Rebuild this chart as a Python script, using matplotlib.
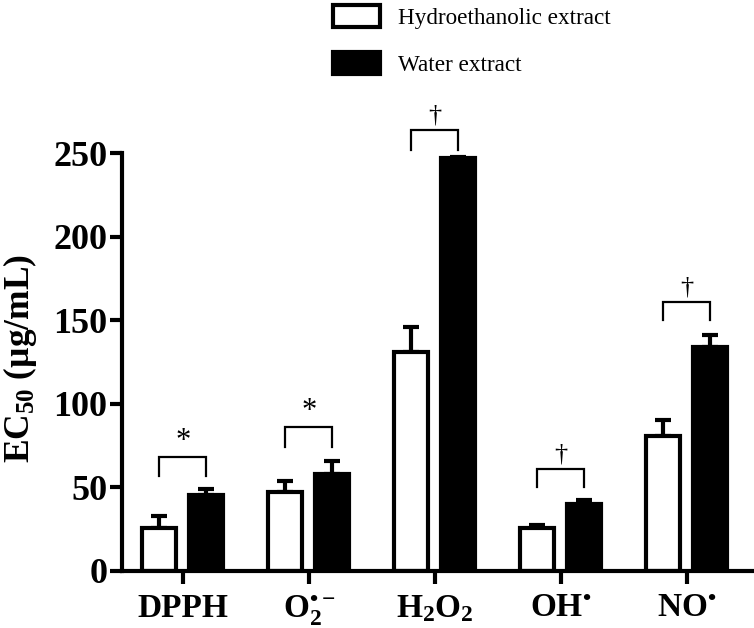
import numpy as np
import matplotlib
matplotlib.use('Agg')
import matplotlib.pyplot as plt
from matplotlib.patches import Patch

plt.rcParams['font.family'] = ['Liberation Serif', 'DejaVu Serif']
plt.rcParams['mathtext.fontset'] = 'custom'
plt.rcParams['mathtext.rm'] = 'Liberation Serif:bold'
plt.rcParams['mathtext.bf'] = 'Liberation Serif:bold'
plt.rcParams['mathtext.it'] = 'Liberation Serif:bold'

# data
radicals = ['DPPH', r'$\mathregular{O_2^{•-}}$', r'$\mathregular{H_2O_2}$',
            r'$\mathregular{OH^{•}}$', r'$\mathregular{NO^{•}}$']
hydro_mean = [25.7, 47.5, 131, 26, 81]
hydro_err = [7, 6.5, 15, 1.5, 9.5]
water_mean = [45.5, 58, 247, 40, 134]
water_err = [3.5, 8, 1, 2.5, 7.5]
marks = ['*', '*', '†', '†', '†']
bracket_top = [68, 86, 264, 61, 161]
bracket_leg = [57, 74, 252, 50, 150]

fig = plt.figure(figsize=(7.54, 6.28), dpi=100)
ax = fig.add_axes([0.1618, 0.0908, 0.8355, 0.798])

x = np.arange(len(radicals))
off = 0.187
w = 0.27
lw = 3

ax.bar(x - off, hydro_mean, w, color='white', edgecolor='black', linewidth=lw, zorder=2)
ax.bar(x + off, water_mean, w, color='black', edgecolor='black', linewidth=lw, zorder=2)
ax.errorbar(x - off, hydro_mean, yerr=[np.zeros(len(x)), hydro_err], fmt='none',
            ecolor='black', elinewidth=lw, capsize=6, capthick=lw, zorder=1)
ax.errorbar(x + off, water_mean, yerr=[np.zeros(len(x)), water_err], fmt='none',
            ecolor='black', elinewidth=lw, capsize=6, capthick=lw, zorder=1)

# significance brackets
for i in range(len(x)):
    xl, xr = x[i] - off, x[i] + off
    ax.plot([xl, xl, xr, xr], [bracket_leg[i], bracket_top[i], bracket_top[i], bracket_leg[i]],
            color='black', lw=1.6, solid_joinstyle='miter')
    if marks[i] == '*':
        ax.text(x[i], bracket_top[i] + 1, '*', ha='center', va='bottom', fontsize=22)
    else:
        ax.text(x[i], bracket_top[i] + 2, '†', ha='center', va='bottom', fontsize=19)

ax.set_xlim(-0.484, 4.52)
ax.set_ylim(0, 300)
ax.spines['left'].set_bounds(0, 250)
ax.spines['top'].set_visible(False)
ax.spines['right'].set_visible(False)
ax.spines['left'].set_linewidth(lw)
ax.spines['bottom'].set_linewidth(lw)
ax.set_yticks([0, 50, 100, 150, 200, 250])
ax.set_xticks(x)
ax.set_xticklabels(radicals)
ax.tick_params(axis='both', width=lw, length=9)
ax.tick_params(axis='x', labelsize=24, pad=7)
ax.tick_params(axis='y', labelsize=26, pad=1.5)
for t in ax.get_xticklabels() + ax.get_yticklabels():
    t.set_fontweight('bold')
ax.set_ylabel(r'EC$_{\mathregular{50}}$ (µg/mL)', fontsize=25.5, fontweight='bold')
ax.yaxis.set_label_coords(-0.132, 0.423)

handles = [Patch(facecolor='white', edgecolor='black', linewidth=lw),
           Patch(facecolor='black', edgecolor='black', linewidth=lw)]
fig.legend(handles, ['Hydroethanolic extract', 'Water extract'], loc='upper left',
           bbox_to_anchor=(0.4416, 0.992), frameon=False, fontsize=16.7,
           borderpad=0, borderaxespad=0,
           handlelength=2.03, handleheight=1.08, handletextpad=0.78, labelspacing=1.0)

fig.savefig('out.png', dpi=100)
